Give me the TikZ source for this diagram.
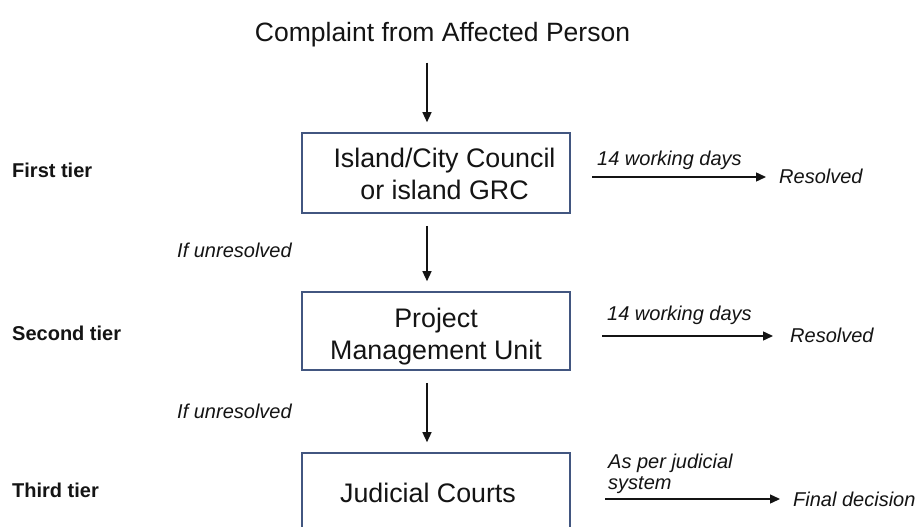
\documentclass[tikz,border=0pt]{standalone}
\usepackage{fontspec}
\setmainfont{Liberation Sans}
\usetikzlibrary{arrows.meta,calc}
\definecolor{boxcol}{RGB}{66,86,128}
\definecolor{ink}{RGB}{20,20,20}
\begin{document}
\begin{tikzpicture}[x=1pt,y=-1pt,
  tierbox/.style={draw=boxcol,line width=1.6pt,minimum width=268pt,inner sep=0pt,align=center,
    font=\fontsize{26.8}{32}\selectfont,text=ink},
  arr/.style={draw=ink,line width=1.4pt,-{Triangle[length=10pt,width=9pt]}},
  tierlbl/.style={anchor=base west,inner sep=0pt,font=\fontsize{20}{24}\selectfont\bfseries,text=ink},
  note/.style={anchor=base west,inner sep=0pt,font=\fontsize{20}{21}\selectfont\itshape,text=ink},
]
\useasboundingbox (0,0) rectangle (918,527);
\clip (0,0) rectangle (918,527);
\fill[white] (0,0) rectangle (918,527);

% title
\node[anchor=base,inner sep=0pt,font=\fontsize{26.5}{30}\selectfont,text=ink] (title) at (442.5,42) {Complaint from Affected Person};

% tier boxes
\node[tierbox,minimum height=80pt] (b1) at (436,173)
  {\hspace*{17pt}\rule{0pt}{22pt}Island/City Council\\\hspace*{17pt}or island GRC};
\node[tierbox,minimum height=78pt] (b2) at (436,331)
  {\rule{0pt}{29.6pt}Project\\Management Unit};
\node[tierbox,minimum height=80pt] (b3) at (436,493)
  {Judicial Courts\kern16pt};

% vertical arrows
\coordinate (ax) at (427,0);
\draw[arr] ($(title.south -| ax)+(0,15)$) -- ($(b1.north -| ax)+(0,-10)$);
\draw[arr] ($(b1.south -| ax)+(0,12)$) -- ($(b2.north -| ax)+(0,-10)$);
\draw[arr] ($(b2.south -| ax)+(0,12)$) -- ($(b3.north -| ax)+(0,-10)$);

% tier labels
\node[tierlbl] (l1) at (12,177) {First tier};
\node[tierlbl] (l2) at (12,340) {Second tier};
\node[tierlbl] (l3) at (12,497) {Third tier};
\node[note] (u1) at (177,257) {If unresolved};
\node[note] (u2) at (177,418) {If unresolved};

% outcomes
\coordinate (s1) at (592,177);
\node[note] (r1) at (779,183) {Resolved};
\node[note] (d1) at (597,165) {14 working days};
\draw[arr] (s1) -- ($(s1 -| r1.west)+(-13,0)$);

\coordinate (s2) at (602,336);
\node[note] (r2) at (790,342) {Resolved};
\node[note] (d2) at (607,320) {14 working days};
\draw[arr] (s2) -- ($(s2 -| r2.west)+(-17,0)$);

\coordinate (s3) at (605,499);
\node[note] (r3) at (793,506) {Final decision};
\node[note,anchor=south west,align=left] (d3) at (608,494) {As per judicial\\system};
\draw[arr] (s3) -- ($(s3 -| r3.west)+(-13,0)$);
\end{tikzpicture}
\end{document}
